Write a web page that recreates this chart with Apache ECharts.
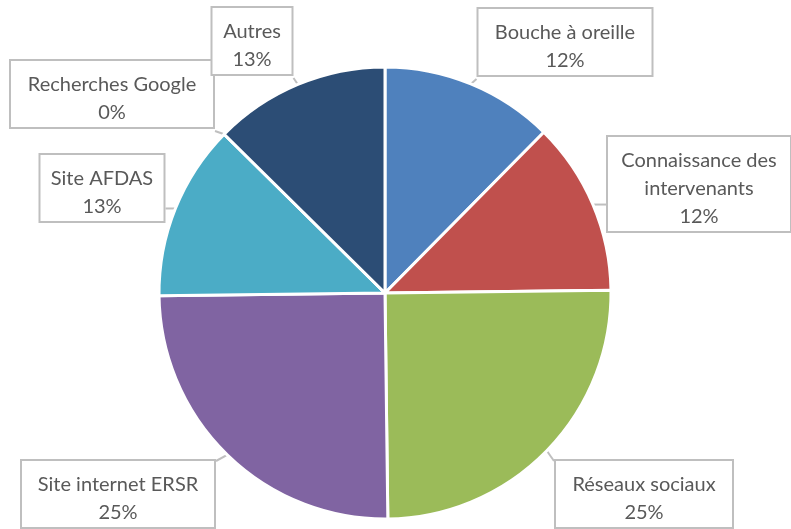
<!DOCTYPE html>
<html>
<head>
<meta charset="utf-8">
<script src="https://cdn.jsdelivr.net/npm/echarts@6/dist/echarts.min.js"></script>
<style>
	html,body{margin:0;padding:0;background:#fff;}
	#chart{width:791px;height:529px;}
</style>
</head>
<body>
<div id="chart"></div>
<script>
	// données
	var categories = ['Bouche à oreille', 'Connaissance des\nintervenants', 'Réseaux sociaux', 'Site internet ERSR', 'Site AFDAS', 'Recherches Google', 'Autres'];
	var values = [12.4, 12.4, 25, 25, 12.6, 0, 12.6];
	var colors = ['#4F81BD', '#C0504D', '#9BBB59', '#8064A2', '#4BACC6', '#F79646', '#2C4D75'];

	// position / taille des étiquettes (centre de la boîte)
	var labelPos = [[565, 44], [699, 186], [644, 496], [118, 496], [102, 190], [112, 96], [252, 43]];
	var labelWidth = [173, 182, 176, 192, 123, 202, 79];

	var chart = echarts.init(document.getElementById('chart'));

	var data = [];
	for (var i = 0; i < categories.length; i++) {
		data.push({
			name: categories[i],
			value: values[i],
			itemStyle: {color: colors[i]},
			label: {width: labelWidth[i]}
		});
	}

	var option = {
		animation: false,
		series: [{
			type: 'pie',
			center: [385, 293],
			radius: 226,
			startAngle: 90,
			clockwise: true,
			avoidLabelOverlap: false,
			itemStyle: {borderColor: '#fff', borderWidth: 3},
			label: {
				show: true,
				position: 'outside',
				formatter: function (p) {
					return p.name + '\n' + Math.round(p.percent) + '%';
				},
				fontFamily: 'Lato',
				fontSize: 20,
				color: '#595959',
				lineHeight: 28,
				align: 'center',
				backgroundColor: '#fff',
				borderColor: '#bfbfbf',
				borderWidth: 2,
				padding: [10, 0, 0, 0]
			},
			labelLine: {
				show: true,
				length2: 0,
				lineStyle: {color: '#bfbfbf', width: 2}
			},
			labelLayout: function (params) {
				var p = labelPos[params.dataIndex];
				var r = params.labelRect;
				var left = p[0] - r.width / 2, top = p[1] - r.height / 2;
				// verticalAlign top pour que le padding haut décale le texte
				var res = {x: p[0], y: top, align: 'center', verticalAlign: 'top', hideOverlap: false};
				if (params.labelLinePoints) {
					// trait droit du bord de la boîte vers le milieu de l'arc
					var a = params.labelLinePoints[0];
					var bx = Math.min(Math.max(a[0], left), left + r.width);
					var by = Math.min(Math.max(a[1], top), top + r.height);
					res.labelLinePoints = [[a[0], a[1]], [bx, by], [bx, by]];
				}
				return res;
			},
			data: data
		}]
	};
	chart.setOption(option);
</script>
</body>
</html>
